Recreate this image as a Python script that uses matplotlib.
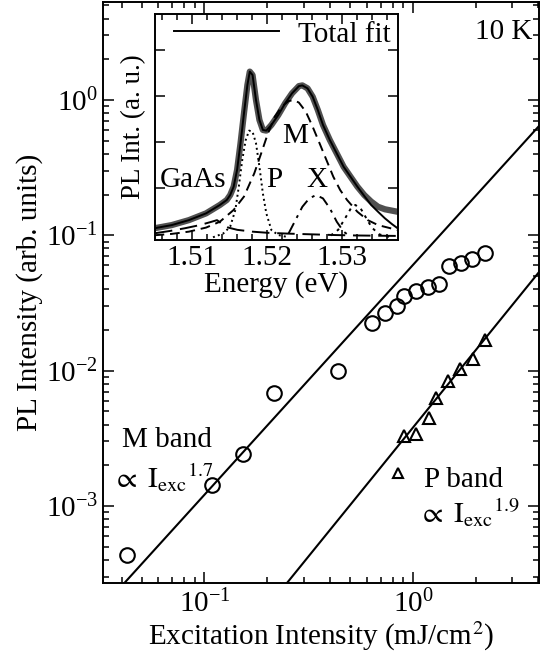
import numpy as np
import matplotlib
matplotlib.use('Agg')
from matplotlib import pyplot as plt

plt.rcParams['font.family'] = ['Liberation Serif', 'DejaVu Serif']
plt.rcParams['mathtext.fontset'] = 'stix'

# main panel: excitation-intensity dependence
m_exc = [0.0424, 0.1087, 0.1524, 0.216, 0.435, 0.638, 0.738, 0.843, 0.910,
         1.04, 1.18, 1.33, 1.49, 1.70, 1.93, 2.21]
m_int = [4.33e-4, 1.43e-3, 2.41e-3, 6.85e-3, 1.00e-2, 0.0226, 0.0269, 0.0301,
         0.0356, 0.0388, 0.0415, 0.0434, 0.0593, 0.0628, 0.0665, 0.0736]
p_exc = [0.910, 1.04, 1.19, 1.29, 1.48, 1.69, 1.95, 2.22]
p_int = [3.27e-3, 3.40e-3, 4.51e-3, 6.27e-3, 8.44e-3, 0.0103, 0.0123, 0.0168]

# power-law fits (end points of the straight lines)
m_fit_x = [0.030, 4.2]
m_fit_y = [1.57e-4, 0.691]
p_fit_x = [0.20, 4.2]
p_fit_y = [1.785e-4, 0.0581]

# inset: PL spectrum
e_data = [1.50494, 1.50724, 1.50954, 1.51184, 1.51368, 1.51460, 1.51506, 1.51552,
          1.51598, 1.51644, 1.51690, 1.51736, 1.51768, 1.51805, 1.51851, 1.51897,
          1.51943, 1.51989, 1.52057, 1.52149, 1.52241, 1.52333, 1.52425, 1.52471,
          1.52540, 1.52609, 1.52678, 1.52747, 1.52839, 1.52931, 1.53023, 1.53115,
          1.53207, 1.53299, 1.53391, 1.53483, 1.53575, 1.53745]
i_data = [0.052, 0.066, 0.088, 0.118, 0.155, 0.177, 0.199, 0.236,
          0.310, 0.428, 0.560, 0.686, 0.745, 0.730, 0.619, 0.531,
          0.487, 0.484, 0.509, 0.553, 0.605, 0.649, 0.681, 0.684,
          0.671, 0.634, 0.575, 0.509, 0.442, 0.383, 0.324, 0.280,
          0.236, 0.199, 0.170, 0.147, 0.136, 0.125]
e_fit = e_data[:33] + [1.53299, 1.53391, 1.53483, 1.53575, 1.53667, 1.53745]
i_fit = i_data[:33] + [0.195, 0.155, 0.125, 0.096, 0.071, 0.052]

e_gaas = [1.5050, 1.5070, 1.5090, 1.5110, 1.5125, 1.5133, 1.5140, 1.5148,
          1.5160, 1.5180, 1.5200, 1.5230, 1.5260, 1.5290, 1.5320, 1.5375]
i_gaas = [0.030, 0.040, 0.052, 0.066, 0.080, 0.088, 0.070, 0.055,
          0.045, 0.037, 0.032, 0.028, 0.025, 0.022, 0.020, 0.018]

e_p = [1.51276, 1.51414, 1.51506, 1.51575, 1.51621, 1.51667, 1.51713, 1.51759,
       1.51805, 1.51851, 1.51897, 1.51943, 1.51989, 1.52057, 1.52149, 1.52287]
i_p = [0.012, 0.029, 0.059, 0.133, 0.236, 0.354, 0.442, 0.484,
       0.479, 0.428, 0.324, 0.206, 0.118, 0.044, 0.022, 0.012]

e_m = [1.50494, 1.50724, 1.50954, 1.51184, 1.51368, 1.51552, 1.51690, 1.51828,
       1.51920, 1.52011, 1.52103, 1.52195, 1.52287, 1.52356, 1.52425, 1.52517,
       1.52609, 1.52701, 1.52793, 1.52885, 1.52977, 1.53069, 1.53207, 1.53345,
       1.53483, 1.53745]
i_m = [0.021, 0.027, 0.037, 0.055, 0.081, 0.133, 0.192, 0.295,
       0.383, 0.472, 0.546, 0.590, 0.615, 0.619, 0.608, 0.568,
       0.501, 0.428, 0.354, 0.280, 0.221, 0.177, 0.125, 0.088,
       0.066, 0.044]

e_x = [1.52287, 1.52379, 1.52471, 1.52563, 1.52655, 1.52747, 1.52839, 1.52931,
       1.53023, 1.53115]
i_x = [0.029, 0.088, 0.147, 0.184, 0.199, 0.184, 0.140, 0.081, 0.037, 0.015]

# weak high-energy component
e_h = [1.5285, 1.5295, 1.5305, 1.5312, 1.5318, 1.5325, 1.5332, 1.5340, 1.5350, 1.5365]
i_h = [0.020, 0.045, 0.100, 0.140, 0.155, 0.140, 0.100, 0.055, 0.025, 0.012]

FS = 21

fig = plt.figure(figsize=(5.4, 6.57), dpi=100)
ax = fig.add_axes([0.1907, 0.1126, 0.8073, 0.8844])

ax.loglog(m_exc, m_int, 'o', mfc='none', mec='black', ms=10.5, mew=1.5)
ax.loglog(p_exc, p_int, '^', mfc='none', mec='black', ms=8.5, mew=1.5)
ax.loglog(m_fit_x, m_fit_y, '-', color='black', lw=1.5)
ax.loglog(p_fit_x, p_fit_y, '-', color='black', lw=1.5)

ax.set_xlim(0.0326, 4.02)
ax.set_ylim(2.7e-4, 5.3)
ax.tick_params(which='both', direction='in', top=True, right=True, width=1.1)
ax.tick_params(which='major', length=8, labelsize=FS)
ax.tick_params(which='minor', length=4)
ax.tick_params(axis='x', which='major', pad=5)
for s in ax.spines.values():
    s.set_linewidth(1.4)
ax.set_xlabel('Excitation Intensity (mJ/cm$^2$)', fontsize=FS, labelpad=1)
ax.set_ylabel('PL Intensity (arb. units)', fontsize=FS, labelpad=2)

ax.text(0.985, 0.97, '10 K', transform=ax.transAxes, ha='right', va='top', fontsize=FS)
ax.text(0.044, 0.234, 'M band', transform=ax.transAxes, fontsize=FS, va='baseline')
ax.text(0.02, 0.163, r'$\propto\ \mathrm{I}_{\mathrm{exc}}{}^{1.7}$', transform=ax.transAxes,
        fontsize=FS, va='baseline')
ax.plot([0.677], [0.189], '^', mfc='none', mec='black', ms=7, mew=1.5, transform=ax.transAxes)
ax.text(0.736, 0.165, 'P band', transform=ax.transAxes, fontsize=FS, va='baseline')
ax.text(0.722, 0.103, r'$\propto\ \mathrm{I}_{\mathrm{exc}}{}^{1.9}$', transform=ax.transAxes,
        fontsize=FS, va='baseline')

# inset
ins = fig.add_axes([0.287, 0.6347, 0.450, 0.344])
ins.plot(e_data, i_data, '-', color='#505050', lw=4.5)
ins.plot(e_fit, i_fit, '-', color='black', lw=1.4, label='Total fit')
ins.plot(e_gaas, i_gaas, '--', color='black', lw=1.4, dashes=(9, 4))
ins.plot(e_p, i_p, ':', color='black', lw=1.4)
ins.plot(e_m, i_m, '--', color='black', lw=1.4, dashes=(5, 3))
ins.plot(e_x, i_x, '-.', color='black', lw=1.4, dashes=(6, 3, 1.5, 3))
ins.plot(e_h, i_h, ':', color='black', lw=1.4, dashes=(1.5, 2.5))
ins.set_xlim(1.505, 1.5375)
ins.set_ylim(0, 1.0)
ins.set_xticks([1.51, 1.52, 1.53])
ins.set_xticklabels(['1.51', '1.52', '1.53'])
ins.set_xticks(np.arange(1.506, 1.5375, 0.002), minor=True)
ins.set_yticks([0.23, 0.435, 0.635, 0.84])
ins.set_yticklabels([])
ins.tick_params(which='both', direction='in', top=True, right=True, width=1.1)
ins.tick_params(which='major', length=7, labelsize=FS)
ins.tick_params(which='minor', length=4)
for s in ins.spines.values():
    s.set_linewidth(1.4)
ins.set_xlabel('Energy (eV)', fontsize=FS, labelpad=0)
ins.set_ylabel('PL Int. (a. u.)', fontsize=19.5, labelpad=3)
ins.legend(loc='upper right', frameon=False, fontsize=FS, handlelength=3.6,
           borderaxespad=0.05, handletextpad=0.65, borderpad=0.2)
ins.text(1.5057, 0.235, 'GaAs', fontsize=FS)
ins.text(1.5199, 0.235, 'P', fontsize=FS)
ins.text(1.5220, 0.43, 'M', fontsize=FS)
ins.text(1.5253, 0.235, 'X', fontsize=FS)

fig.savefig('out.png', dpi=100)
